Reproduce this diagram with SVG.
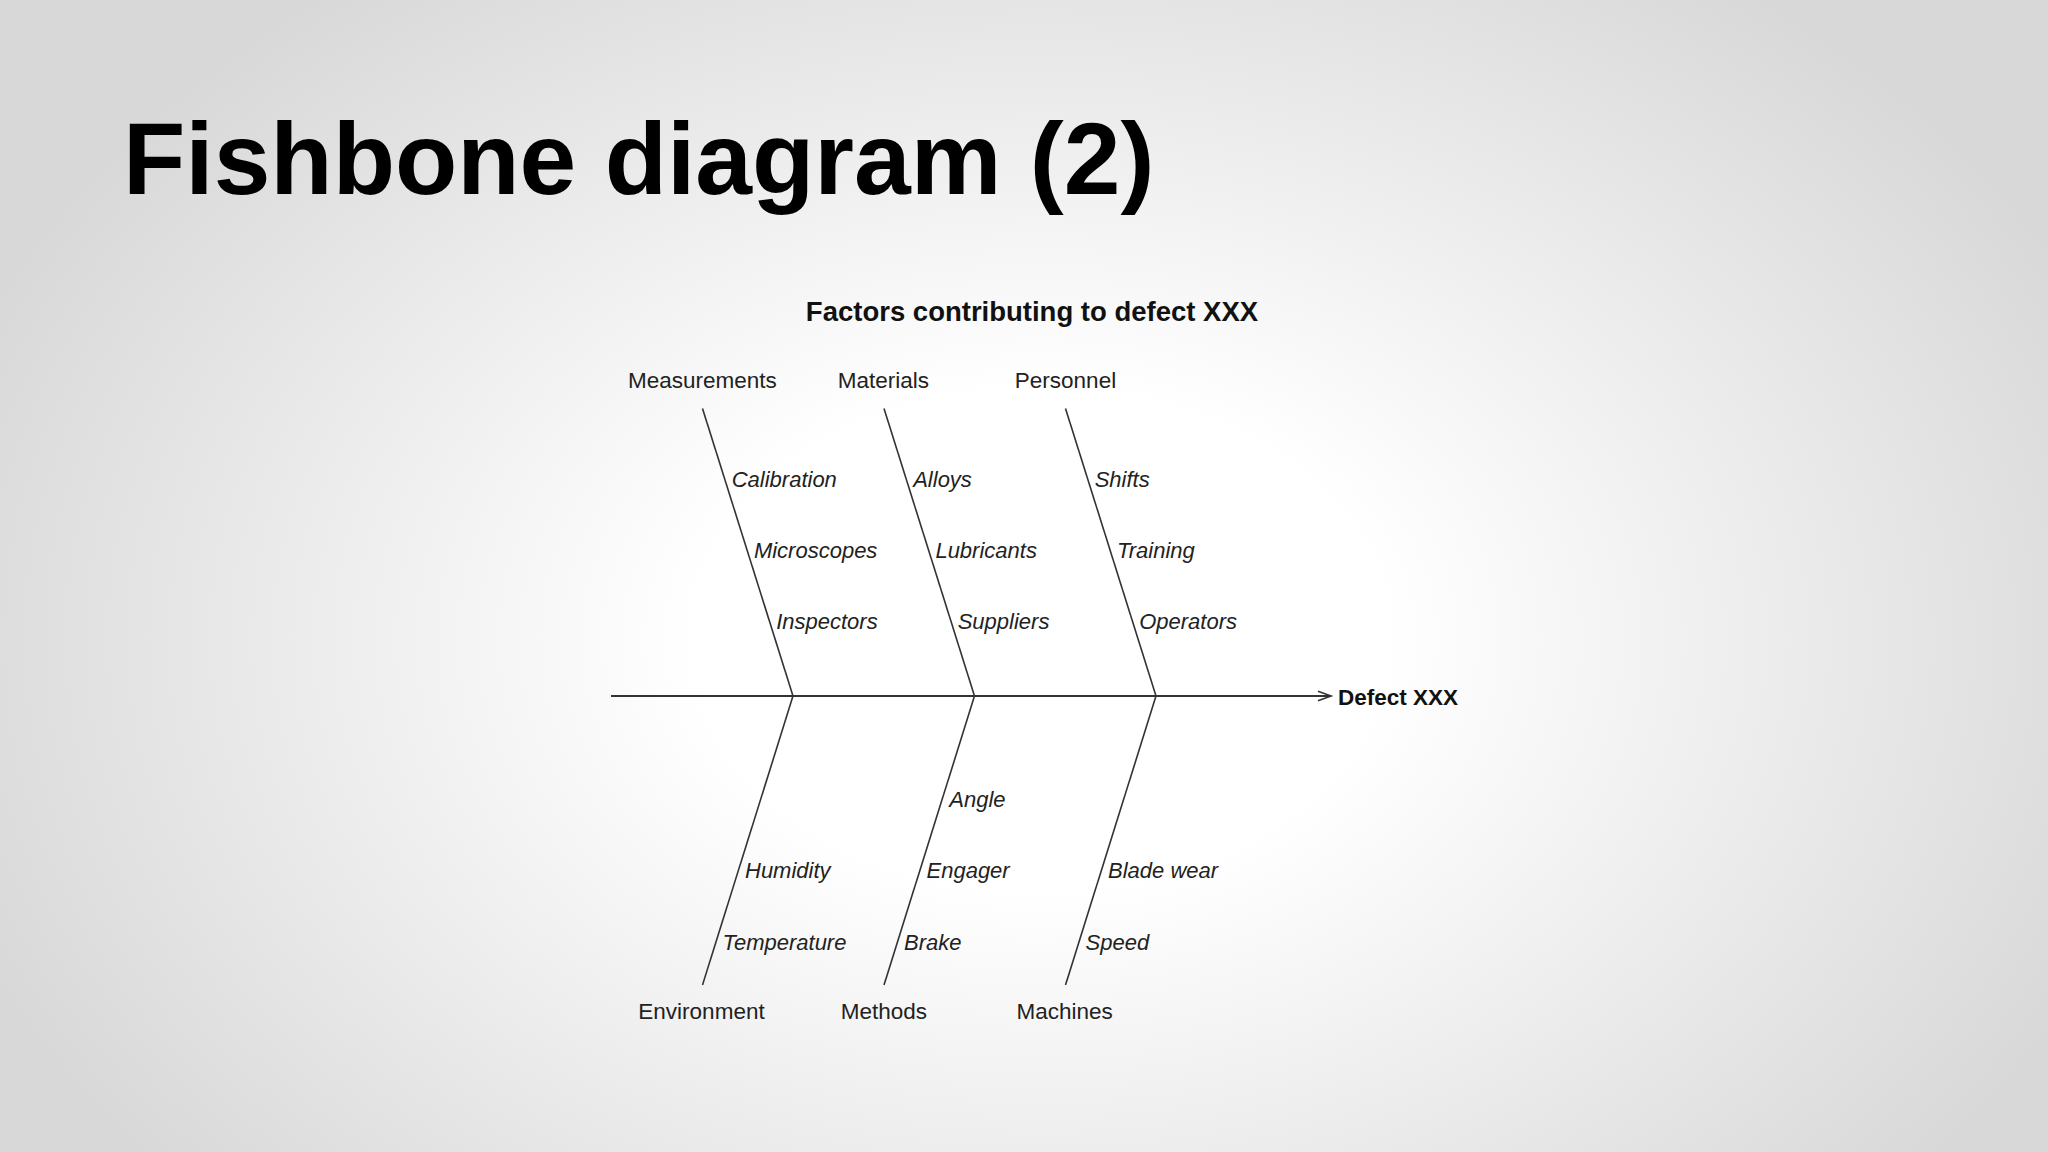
<svg xmlns="http://www.w3.org/2000/svg" width="2048" height="1152" viewBox="0 0 2048 1152">
  <defs>
    <radialGradient id="bg" gradientUnits="userSpaceOnUse" cx="1040" cy="640" r="1150" gradientTransform="translate(1040 640) scale(1 0.72) translate(-1040 -640)">
      <stop offset="0" stop-color="#ffffff"/>
      <stop offset="0.3" stop-color="#ffffff"/>
      <stop offset="1" stop-color="#d8d8d8"/>
    </radialGradient>
    <marker id="arrow" markerUnits="userSpaceOnUse" markerWidth="18" markerHeight="14" refX="15" refY="7" orient="auto">
      <path d="M2,2.3 L15,7 L2,11.7" fill="none" stroke="#333" stroke-width="1.6"/>
    </marker>
  </defs>
  <style>
    .title { font-family: "Liberation Sans", Arial, sans-serif; font-weight: bold; font-size: 102px; fill: #000; }
    .ctitle { font-family: "Liberation Sans", Arial, sans-serif; font-weight: bold; font-size: 27.5px; fill: #111; }
    .cat { font-family: "Liberation Sans", Arial, sans-serif; font-size: 22.5px; fill: #222; text-anchor: middle; }
    .sub { font-family: "Liberation Sans", Arial, sans-serif; font-style: italic; font-size: 22px; fill: #222; }
    .effect { font-family: "Liberation Sans", Arial, sans-serif; font-weight: bold; font-size: 22.5px; fill: #111; }
    .bone { stroke: #333; stroke-width: 1.6; fill: none; }
    .spine { stroke: #333; stroke-width: 2; fill: none; }
  </style>
  <rect x="0" y="0" width="2048" height="1152" fill="url(#bg)"/>

  <text class="title" x="123" y="194">Fishbone diagram (2)</text>
  <text class="ctitle" x="1032" y="321" text-anchor="middle">Factors contributing to defect XXX</text>

  <g id="connectors">
    <line class="spine" x1="611" y1="696" x2="1331" y2="696" marker-end="url(#arrow)"/>
    <line class="bone" x1="702.5" y1="408.5" x2="793" y2="696"/>
    <line class="bone" x1="884" y1="408.5" x2="974.5" y2="696"/>
    <line class="bone" x1="1065.5" y1="408.5" x2="1156" y2="696"/>
    <line class="bone" x1="793" y1="696" x2="702.5" y2="985"/>
    <line class="bone" x1="974.5" y1="696" x2="884" y2="985"/>
    <line class="bone" x1="1156" y1="696" x2="1065.5" y2="985"/>
  </g>

  <g id="effect"><text class="effect" x="1338" y="705">Defect XXX</text></g>

  <g id="cat-measurements"><text class="cat" x="702.3" y="388">Measurements</text></g>
  <g id="cat-materials"><text class="cat" x="883.3" y="388">Materials</text></g>
  <g id="cat-personnel"><text class="cat" x="1065.5" y="388">Personnel</text></g>
  <g id="cat-environment"><text class="cat" x="701.5" y="1019">Environment</text></g>
  <g id="cat-methods"><text class="cat" x="883.8" y="1019">Methods</text></g>
  <g id="cat-machines"><text class="cat" x="1064.7" y="1019">Machines</text></g>

  <g id="sub-calibration"><text class="sub" x="731.7" y="487">Calibration</text></g>
  <g id="sub-microscopes"><text class="sub" x="753.9" y="557.5">Microscopes</text></g>
  <g id="sub-inspectors"><text class="sub" x="776.2" y="628.5">Inspectors</text></g>

  <g id="sub-alloys"><text class="sub" x="913.2" y="487">Alloys</text></g>
  <g id="sub-lubricants"><text class="sub" x="935.4" y="557.5">Lubricants</text></g>
  <g id="sub-suppliers"><text class="sub" x="957.7" y="628.5">Suppliers</text></g>

  <g id="sub-shifts"><text class="sub" x="1094.7" y="487">Shifts</text></g>
  <g id="sub-training"><text class="sub" x="1116.9" y="557.5">Training</text></g>
  <g id="sub-operators"><text class="sub" x="1139.2" y="628.5">Operators</text></g>

  <g id="sub-humidity"><text class="sub" x="745" y="878">Humidity</text></g>
  <g id="sub-temperature"><text class="sub" x="722.5" y="950">Temperature</text></g>

  <g id="sub-angle"><text class="sub" x="949.3" y="806.5">Angle</text></g>
  <g id="sub-engager"><text class="sub" x="926.5" y="878">Engager</text></g>
  <g id="sub-brake"><text class="sub" x="904" y="950">Brake</text></g>

  <g id="sub-bladewear"><text class="sub" x="1108" y="878">Blade wear</text></g>
  <g id="sub-speed"><text class="sub" x="1085.5" y="950">Speed</text></g>
</svg>
